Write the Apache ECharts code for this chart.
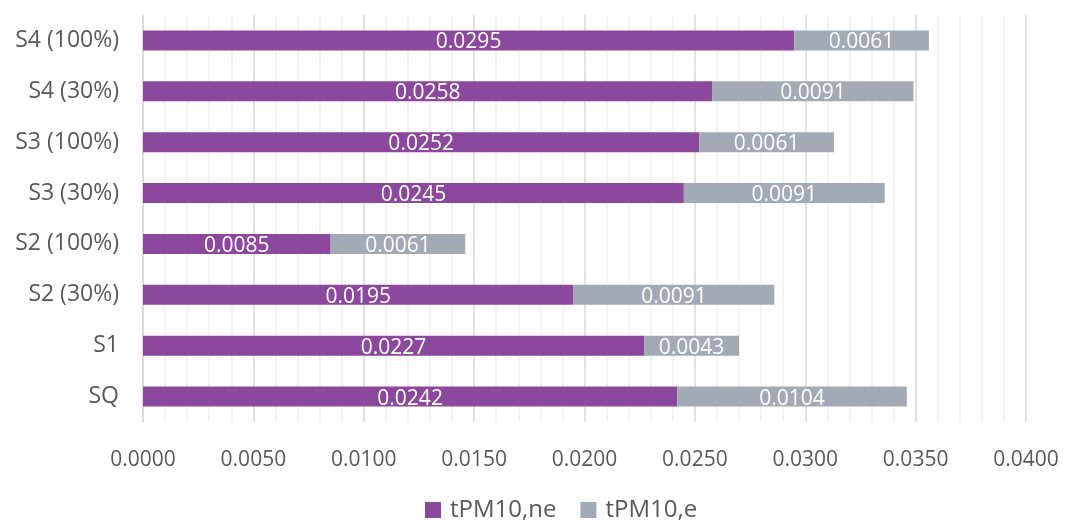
<!DOCTYPE html>
<html>
<head>
<meta charset="utf-8">
<script src="https://cdn.jsdelivr.net/npm/echarts@6/dist/echarts.min.js"></script>
<style>
  html, body { margin: 0; padding: 0; background: #fff; }
  #chart { width: 1066px; height: 525px; }
</style>
</head>
<body>
<div id="chart"></div>
<script>
  // ==== data ====
  const categories = ['SQ', 'S1', 'S2 (30%)', 'S2 (100%)', 'S3 (30%)', 'S3 (100%)', 'S4 (30%)', 'S4 (100%)']
  const nonExhaust = [0.0242, 0.0227, 0.0195, 0.0085, 0.0245, 0.0252, 0.0258, 0.0295]
  const exhaust = [0.0104, 0.0043, 0.0091, 0.0061, 0.0091, 0.0061, 0.0091, 0.0061]
  const seriesNames = ['tPM10,ne', 'tPM10,e']

  const font = '"Open Sans", "Noto Sans", sans-serif'

  const chart = echarts.init(document.getElementById('chart'))

  const label = {
    show: true,
    position: 'inside',
    color: '#fff',
    fontSize: 21,
    fontFamily: font,
    offset: [0, 2],
    formatter: (p) => p.value.toFixed(4)
  }

  chart.setOption({
    animation: false,
    grid: { left: 143, right: 40, top: 15, bottom: 103 },
    legend: {
      bottom: -2,
      left: 420,
      itemWidth: 16,
      itemHeight: 16,
      itemGap: 24,
      icon: 'rect',
      textStyle: { fontSize: 24, color: '#595959', fontFamily: font, padding: [0, 0, 0, 4] }
    },
    xAxis: {
      type: 'value',
      min: 0,
      max: 0.04,
      interval: 0.005,
      axisLine: { show: false },
      axisTick: { show: false },
      axisLabel: {
        margin: 28,
        fontSize: 21,
        color: '#595959',
        fontFamily: font,
        formatter: (v) => v.toFixed(4)
      },
      splitLine: { show: true, lineStyle: { color: '#d9d9d9', width: 1.5 } },
      minorTick: { show: false, splitNumber: 5 },
      minorSplitLine: { show: true, lineStyle: { color: '#efefef', width: 1.5 } }
    },
    yAxis: {
      type: 'category',
      data: categories,
      axisLine: { show: true, lineStyle: { color: '#d9d9d9', width: 1.5 } },
      axisTick: { show: false },
      axisLabel: { margin: 24, fontSize: 23, color: '#595959', fontFamily: font }
    },
    series: [
      {
        name: seriesNames[0],
        type: 'bar',
        stack: 'total',
        barWidth: 20,
        data: nonExhaust,
        itemStyle: { color: '#8b489c' },
        label
      },
      {
        name: seriesNames[1],
        type: 'bar',
        stack: 'total',
        barWidth: 20,
        data: exhaust,
        itemStyle: { color: '#a2abb5' },
        label
      }
    ]
  })
</script>
</body>
</html>
